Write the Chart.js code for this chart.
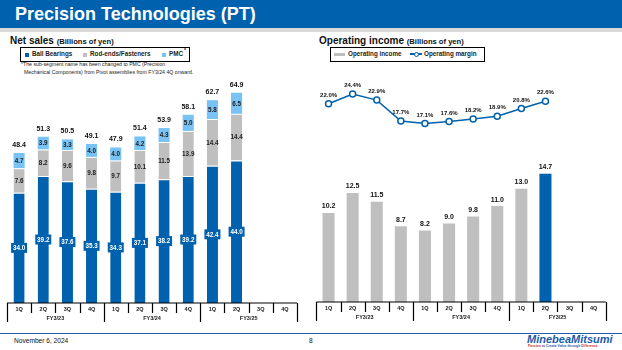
<!DOCTYPE html>
<html>
<head>
<meta charset="utf-8">
<script src="https://cdn.jsdelivr.net/npm/chart.js@4.4.0/dist/chart.umd.min.js"></script>
<style>
body { margin: 0; width: 622px; height: 350px; position: relative; overflow: hidden; background: #fff; font-family: "Liberation Sans", Arial, sans-serif; color: #111; }
.abs { position: absolute; white-space: nowrap; line-height: 1; }
#header { position: absolute; left: 0; top: 0; width: 622px; height: 28px; background: #0062ae; }
#stripe { position: absolute; left: 0; top: 28px; width: 622px; height: 4px; background: #d9d9d9; }
.title { color: #fff; font-weight: bold; font-size: 18px; left: 15px; top: 5px; }
.sub { font-weight: bold; font-size: 10px; top: 35.5px; }
.sub span { font-size: 7.6px; }
.legend { position: absolute; border: 1px solid #000; box-sizing: border-box; height: 14.5px; top: 47px; }
.lg { font-size: 6.3px; font-weight: bold; top: 51px; color: #222; }
.sq { position: absolute; width: 4px; height: 4px; top: 52.5px; }
.note { font-size: 5.2px; color: #222; }
canvas { position: absolute; }
</style>
</head>
<body>
<div id="header"></div>
<div id="stripe"></div>
<div class="abs title">Precision Technologies (PT)</div>

<div class="abs sub" style="left:10px">Net sales <span>(Billions of yen)</span></div>
<div class="legend" style="left:20px;width:170px"></div>
<div class="sq" style="left:25px;background:#0062ae"></div>
<div class="abs lg" style="left:32px">Ball Bearings</div>
<div class="sq" style="left:83px;background:#bfbfbf"></div>
<div class="abs lg" style="left:90px">Rod-ends/Fasteners</div>
<div class="sq" style="left:162px;background:#78c2f4"></div>
<div class="abs lg" style="left:169px">PMC</div>
<div class="abs" style="left:184px;top:47.5px;font-size:5px;font-weight:bold">*</div>
<div class="abs note" style="left:21px;top:62px">*The sub-segment name has been changed to PMC (Precision</div>
<div class="abs note" style="left:24px;top:69.5px">Mechanical Components) from Pivot assemblies from FY3/24 4Q onward.</div>

<div class="abs sub" style="left:319px">Operating income <span>(Billions of yen)</span></div>
<div class="legend" style="left:330px;width:155px"></div>
<div style="position:absolute;left:334px;top:52.5px;width:11px;height:3px;background:#bfbfbf"></div>
<div class="abs lg" style="left:348px">Operating income</div>
<div style="position:absolute;left:410px;top:53.3px;width:12px;height:1.5px;background:#0062ae"></div>
<div style="position:absolute;left:413.5px;top:51.5px;width:3px;height:3px;border:1px solid #0062ae;border-radius:50%;background:#fff"></div>
<div class="abs lg" style="left:424px">Operating margin</div>

<canvas id="salesChart" width="311" height="262" style="left:0;top:70px"></canvas>
<canvas id="incomeChart" width="311" height="262" style="left:311px;top:70px"></canvas>

<div style="position:absolute;left:0;top:332.5px;width:622px;height:1.5px;background:#1f5fa8"></div>
<div class="abs" style="left:14px;top:337.5px;font-size:6.6px">November 6, 2024</div>
<div class="abs" style="left:309px;top:337.5px;font-size:6.6px">8</div>
<div class="abs" style="left:527px;top:334px;font-size:11px;font-weight:bold;font-style:italic;color:#1a5bab">MinebeaMitsumi</div>
<div class="abs" style="left:528px;top:344.5px;font-size:3.4px;font-weight:bold;color:#c8322f">Passion <span style="color:#1a5bab">to Create Value through</span> Difference</div>

<script>
// Data
const quarters = ['1Q', '2Q', '3Q', '4Q', '1Q', '2Q', '3Q', '4Q', '1Q', '2Q', '3Q', '4Q'];
const fiscalYears = ['FY3/23', 'FY3/24', 'FY3/25'];
const ballBearings = [34.0, 39.2, 37.6, 35.3, 34.3, 37.1, 38.2, 39.2, 42.4, 44.0, null, null];
const rodEnds = [7.6, 8.2, 9.6, 9.8, 9.7, 10.1, 11.5, 13.9, 14.4, 14.4, null, null];
const pmc = [4.7, 3.9, 3.3, 4.0, 4.0, 4.2, 4.3, 5.0, 5.8, 6.5, null, null];
const salesTotals = [48.4, 51.3, 50.5, 49.1, 47.9, 51.4, 53.9, 58.1, 62.7, 64.9, null, null];
const operatingIncome = [10.2, 12.5, 11.5, 8.7, 8.2, 9.0, 9.8, 11.0, 13.0, 14.7, null, null];
const operatingMargin = [22.0, 24.4, 22.9, 17.7, 17.1, 17.6, 18.2, 18.9, 20.8, 22.6, null, null];

const BLUE = '#0062ae';
const GREY = '#bfbfbf';
const LIGHT_BLUE = '#78c2f4';
const FONT = '"Liberation Sans", Arial, sans-serif';

Chart.defaults.font.family = FONT;
Chart.defaults.animation = false;

// Draws the quarter axis with fiscal year groups under the chart area
const fyAxis = {
    id: 'fyAxis',
    afterDraw(chart) {
        const ctx = chart.ctx;
        const x = chart.scales.x;
        const bottom = chart.chartArea.bottom;
        const half = (x.getPixelForValue(1) - x.getPixelForValue(0)) / 2;
        ctx.save();
        ctx.strokeStyle = '#000';
        ctx.lineWidth = 1.2;
        ctx.beginPath();
        ctx.moveTo(x.getPixelForValue(0) - half, bottom);
        ctx.lineTo(x.getPixelForValue(quarters.length - 1) + half, bottom);
        for (let i = 0; i <= quarters.length; i++) {
            const px = Math.round(x.getPixelForValue(i) - half) + 0.5;
            ctx.moveTo(px, bottom);
            ctx.lineTo(px, bottom + (i % 4 === 0 ? 19 : 10));
        }
        ctx.stroke();
        ctx.fillStyle = '#222';
        ctx.textAlign = 'center';
        ctx.textBaseline = 'middle';
        ctx.font = 'bold 5.5px ' + FONT;
        quarters.forEach((q, i) => ctx.fillText(q, x.getPixelForValue(i), bottom + 6.5));
        fiscalYears.forEach((fy, g) => {
            const cx = (x.getPixelForValue(g * 4) + x.getPixelForValue(g * 4 + 3)) / 2;
            ctx.fillText(fy, cx, bottom + 15.5);
        });
        ctx.restore();
    }
};

// Segment values and totals for the net sales bars
const salesLabels = {
    id: 'salesLabels',
    afterDatasetsDraw(chart) {
        const ctx = chart.ctx;
        ctx.save();
        ctx.textAlign = 'center';
        ctx.textBaseline = 'middle';
        chart.data.datasets.forEach((ds, d) => {
            chart.getDatasetMeta(d).data.forEach((bar, i) => {
                const v = ds.data[i];
                if (v == null) return;
                const cy = (bar.y + bar.base) / 2;
                if (d === 0) {
                    ctx.fillStyle = BLUE;
                    ctx.fillRect(bar.x - 8, cy - 5, 16, 10);
                    ctx.fillStyle = '#fff';
                } else {
                    ctx.fillStyle = '#222';
                }
                ctx.font = 'bold 6.3px ' + FONT;
                ctx.fillText(v.toFixed(1), bar.x, cy + 0.5);
            });
        });
        const top = chart.getDatasetMeta(2).data;
        ctx.fillStyle = '#111';
        ctx.font = 'bold 7px ' + FONT;
        salesTotals.forEach((t, i) => {
            if (t == null) return;
            ctx.fillText(t.toFixed(1), top[i].x, top[i].y - 8);
        });
        ctx.restore();
    }
};

// Values above income bars and margin points
const incomeLabels = {
    id: 'incomeLabels',
    afterDatasetsDraw(chart) {
        const ctx = chart.ctx;
        ctx.save();
        ctx.textAlign = 'center';
        ctx.textBaseline = 'middle';
        ctx.fillStyle = '#111';
        chart.getDatasetMeta(1).data.forEach((bar, i) => {
            if (operatingIncome[i] == null) return;
            ctx.font = 'bold 7px ' + FONT;
            ctx.fillText(operatingIncome[i].toFixed(1), bar.x, bar.y - 6.5);
        });
        chart.getDatasetMeta(0).data.forEach((pt, i) => {
            if (operatingMargin[i] == null) return;
            ctx.font = 'bold 6px ' + FONT;
            ctx.fillText(operatingMargin[i].toFixed(1) + '%', pt.x, pt.y - 8.5);
        });
        ctx.restore();
    }
};

new Chart(document.getElementById('salesChart').getContext('2d'), {
    type: 'bar',
    data: {
        labels: quarters,
        datasets: [
            { label: 'Ball Bearings', data: ballBearings, backgroundColor: BLUE, borderColor: '#fff', borderWidth: { top: 1, left: 0, right: 0, bottom: 0 }, borderSkipped: false },
            { label: 'Rod-ends/Fasteners', data: rodEnds, backgroundColor: GREY, borderColor: '#fff', borderWidth: { top: 1, left: 0, right: 0, bottom: 0 }, borderSkipped: false },
            { label: 'PMC', data: pmc, backgroundColor: LIGHT_BLUE, borderWidth: 0 }
        ]
    },
    options: {
        responsive: false,
        devicePixelRatio: 1,
        layout: { padding: { left: 7, right: 14, top: 10, bottom: 29 } },
        datasets: { bar: { barPercentage: 0.46, categoryPercentage: 1 } },
        scales: {
            x: { stacked: true, display: false },
            y: { stacked: true, display: false, min: 0, max: 68.83 }
        },
        plugins: { legend: { display: false }, tooltip: { enabled: false } }
    },
    plugins: [fyAxis, salesLabels]
});

new Chart(document.getElementById('incomeChart').getContext('2d'), {
    type: 'bar',
    data: {
        labels: quarters,
        datasets: [
            {
                type: 'line', label: 'Operating margin', data: operatingMargin, yAxisID: 'y2',
                borderColor: BLUE, borderWidth: 1.5, tension: 0,
                pointRadius: 3, pointBorderWidth: 1.5, pointBackgroundColor: '#fff', pointBorderColor: BLUE
            },
            {
                label: 'Operating income', data: operatingIncome, yAxisID: 'y',
                backgroundColor: operatingIncome.map((v, i) => i === 9 ? BLUE : GREY),
                borderWidth: 0
            }
        ]
    },
    options: {
        responsive: false,
        devicePixelRatio: 1,
        layout: { padding: { left: 5.3, right: 16.3, top: 10, bottom: 30 } },
        datasets: { bar: { barPercentage: 0.5, categoryPercentage: 1 } },
        scales: {
            x: { display: false },
            y: { display: false, min: 0, max: 25.46 },
            y2: { display: false, min: -27.2, max: 27.89 }
        },
        plugins: { legend: { display: false }, tooltip: { enabled: false } }
    },
    plugins: [fyAxis, incomeLabels]
});
</script>
</body>
</html>
